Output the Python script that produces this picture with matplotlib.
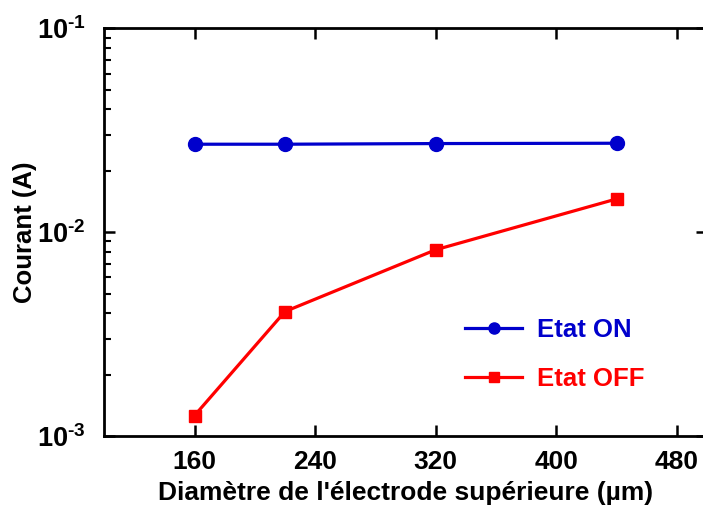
import matplotlib
matplotlib.use('Agg')
import matplotlib.pyplot as plt
from matplotlib.ticker import FixedLocator, FixedFormatter, LogLocator, NullFormatter

# Electrode diameter (um) and measured currents (A)
diametre = [160, 220, 320, 440]
courant_on = [0.0270, 0.0270, 0.0272, 0.0273]
courant_off = [0.00126, 0.00408, 0.0082, 0.01456]

x_ticks = [160, 240, 320, 400, 480]
y_ticks = [1e-3, 1e-2, 1e-1]
y_labels = [r'$\mathbf{10^{\text{-3}}}$', r'$\mathbf{10^{\text{-2}}}$', r'$\mathbf{10^{\text{-1}}}$']

plt.rcParams['font.family'] = ['Liberation Sans', 'DejaVu Sans']
plt.rcParams['font.weight'] = 'bold'
plt.rcParams['mathtext.fontset'] = 'custom'
plt.rcParams['mathtext.bf'] = 'Liberation Sans:bold'
plt.rcParams['mathtext.rm'] = 'Liberation Sans:bold'

fig = plt.figure(figsize=(7.03, 5.08), dpi=100)
ax = fig.add_axes([0.148, 0.1417, 0.858, 0.8026])

ax.plot(diametre, courant_on, color='#0000cc', lw=2.3, marker='o', ms=10, label='Etat ON')
ax.plot(diametre, courant_off, color='#ff0000', lw=2.3, marker='s', ms=9, label='Etat OFF')

ax.set_yscale('log')
ax.set_xlim(100, 500)
ax.set_ylim(1e-3, 1e-1)

ax.xaxis.set_major_locator(FixedLocator(x_ticks))
ax.yaxis.set_major_locator(FixedLocator(y_ticks))
ax.yaxis.set_major_formatter(FixedFormatter(y_labels))
ax.yaxis.set_minor_locator(LogLocator(base=10, subs=range(2, 10)))
ax.yaxis.set_minor_formatter(NullFormatter())

ax.tick_params(which='major', direction='in', length=8, width=1.8,
               top=True, right=True, pad=10)
ax.tick_params(axis='x', which='major', labelsize=19)
ax.tick_params(axis='y', which='major', labelsize=19.5, pad=13)
ax.tick_params(which='minor', direction='in', length=5, width=1.5,
               top=False, right=False)
for lab in ax.get_xticklabels():
    lab.set_fontweight('bold')
for sp in ax.spines.values():
    sp.set_linewidth(2.0)

ax.set_xlabel("Diamètre de l'électrode supérieure (µm)", fontsize=19, fontweight='bold', labelpad=5)
ax.set_ylabel('Courant (A)', fontsize=18.5, fontweight='bold', labelpad=0)

leg = ax.legend(loc='lower right', bbox_to_anchor=(0.935, 0.053), frameon=False,
                fontsize=18.5, handlelength=2.2, handletextpad=0.6, labelspacing=0.97,
                markerscale=0.8)
for txt, line in zip(leg.get_texts(), leg.get_lines()):
    txt.set_color(line.get_color())
    txt.set_fontweight('bold')

fig.savefig('out.png', dpi=100)
